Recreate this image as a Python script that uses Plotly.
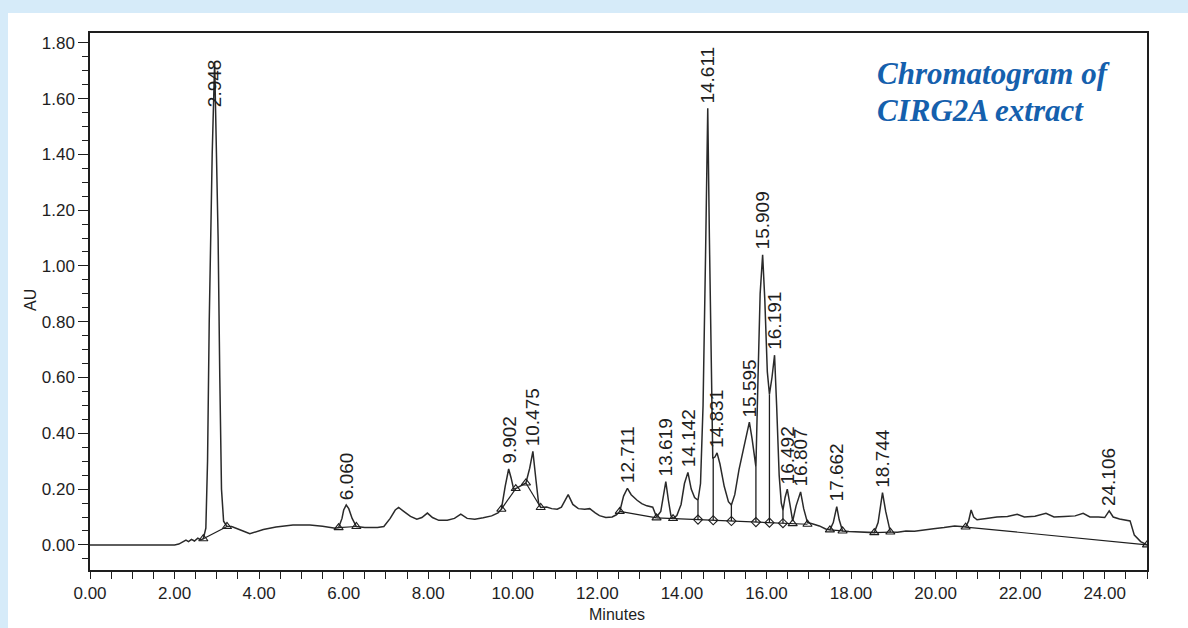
import numpy as np
import plotly.graph_objects as go

# Detector trace: retention time (min) and absorbance (AU)
time_min = [
    0.00, 1.00, 2.00, 2.10, 2.20, 2.27, 2.33, 2.40, 2.47, 2.55, 2.62, 2.68,
    2.74, 2.78, 2.82, 2.85, 2.89, 2.948, 2.99, 3.03, 3.07, 3.11, 3.16, 3.24,
    3.35, 3.50, 3.65, 3.78, 3.90, 4.10, 4.40, 4.80, 5.20, 5.50, 5.80, 5.88,
    5.96, 6.00, 6.060, 6.12, 6.20, 6.30, 6.50, 6.80, 6.95, 7.10, 7.22, 7.30,
    7.42, 7.58, 7.73, 7.85, 7.98, 8.10, 8.25, 8.45, 8.62, 8.77, 8.92, 9.10,
    9.30, 9.50, 9.65, 9.73, 9.82, 9.902, 9.96, 10.02, 10.07, 10.20, 10.31,
    10.40, 10.475, 10.55, 10.61, 10.66, 10.80, 10.92, 11.05, 11.15, 11.31,
    11.42, 11.55, 11.70, 11.82, 11.95, 12.05, 12.20, 12.35, 12.45, 12.53,
    12.62, 12.711, 12.80, 12.94, 13.05, 13.17, 13.31, 13.40, 13.50, 13.56,
    13.619, 13.68, 13.74, 13.79, 13.88, 13.98, 14.06, 14.142, 14.22, 14.30,
    14.38, 14.44, 14.50, 14.56, 14.611, 14.65, 14.69, 14.73, 14.78, 14.831,
    14.90, 15.00, 15.10, 15.17, 15.25, 15.35, 15.45, 15.52, 15.595, 15.66,
    15.75, 15.80, 15.85, 15.909, 15.96, 16.02, 16.07, 16.13, 16.191, 16.24,
    16.30, 16.35, 16.39, 16.44, 16.492, 16.55, 16.62, 16.70, 16.807, 16.88,
    16.97, 17.10, 17.25, 17.40, 17.50, 17.58, 17.662, 17.72, 17.80, 17.95,
    18.15, 18.35, 18.55, 18.64, 18.744, 18.82, 18.93, 19.10, 19.30, 19.50,
    19.70, 19.95, 20.20, 20.45, 20.60, 20.71, 20.78, 20.84, 20.90, 20.98,
    21.20, 21.45, 21.70, 21.93, 22.10, 22.35, 22.61, 22.80, 23.05, 23.30,
    23.49, 23.65, 23.85, 24.00, 24.106, 24.20, 24.35, 24.52, 24.60, 24.70,
    24.85, 25.00,
]
absorbance = [
    0.000, 0.000, 0.000, 0.003, 0.010, 0.017, 0.012, 0.020, 0.014, 0.024, 0.018, 0.022,
    0.060, 0.300, 0.800, 1.100, 1.400, 1.730, 1.450, 1.100, 0.600, 0.200, 0.085, 0.066,
    0.066, 0.058, 0.048, 0.040, 0.045, 0.055, 0.064, 0.071, 0.071, 0.067, 0.060, 0.062,
    0.095, 0.125, 0.143, 0.130, 0.095, 0.066, 0.062, 0.062, 0.066, 0.095, 0.125, 0.134,
    0.120, 0.102, 0.092, 0.098, 0.114, 0.098, 0.088, 0.088, 0.095, 0.110, 0.095, 0.092,
    0.097, 0.104, 0.115, 0.128, 0.210, 0.272, 0.240, 0.200, 0.202, 0.212, 0.222,
    0.275, 0.335, 0.230, 0.150, 0.134, 0.136, 0.130, 0.128, 0.135, 0.180,
    0.145, 0.130, 0.128, 0.130, 0.115, 0.105, 0.098, 0.100, 0.108, 0.120,
    0.175, 0.203, 0.180, 0.160, 0.148, 0.140, 0.135, 0.100, 0.120, 0.180,
    0.227, 0.160, 0.105, 0.095, 0.105, 0.145, 0.220, 0.260, 0.200, 0.170,
    0.160, 0.220, 0.500, 1.050, 1.565, 1.100, 0.600, 0.310, 0.315, 0.330,
    0.290, 0.210, 0.155, 0.143, 0.180, 0.270, 0.340, 0.390, 0.440, 0.380,
    0.280, 0.600, 0.900, 1.040, 0.880, 0.620, 0.540, 0.600, 0.680, 0.500,
    0.250, 0.150, 0.125, 0.170, 0.200, 0.150, 0.085, 0.140, 0.190, 0.130,
    0.080, 0.075, 0.068, 0.057, 0.054, 0.080, 0.137, 0.090, 0.050, 0.048,
    0.047, 0.046, 0.044, 0.080, 0.187, 0.120, 0.046, 0.045, 0.050, 0.049,
    0.054, 0.058, 0.062, 0.068, 0.066, 0.064, 0.085, 0.125, 0.100, 0.090,
    0.095, 0.100, 0.102, 0.110, 0.100, 0.103, 0.113, 0.100, 0.102, 0.104,
    0.113, 0.100, 0.100, 0.098, 0.122, 0.100, 0.093, 0.088, 0.086, 0.035,
    0.012, 0.000,
]

# Integrated peaks (retention times printed above each peak)
peak_rt = [2.948, 6.060, 9.902, 10.475, 12.711, 13.619, 14.142, 14.611, 14.831,
           15.595, 15.909, 16.191, 16.492, 16.807, 17.662, 18.744, 24.106]

# Integration baselines: start/end of each baseline segment
base_start_t = [2.68, 5.88, 9.73, 10.31, 12.53, 13.40, 17.50, 18.55, 20.71]
base_start_au = [0.022, 0.062, 0.128, 0.222, 0.120, 0.097, 0.054, 0.044, 0.064]
base_end_t = [3.24, 6.30, 10.07, 10.66, 13.40, 16.97, 17.80, 18.93, 25.00]
base_end_au = [0.066, 0.066, 0.202, 0.134, 0.097, 0.074, 0.050, 0.046, 0.000]

# Peak start/end marks (triangles) and drop-line marks (diamonds)
tri_t = [2.68, 3.24, 5.88, 6.30, 9.73, 10.07, 10.31, 10.66, 12.53, 13.40,
         13.79, 16.62, 16.97, 17.50, 17.80, 18.55, 18.93, 20.71, 25.00]
drop_t = [14.38, 14.74, 15.17, 15.75, 16.07, 16.39]

x_ticks = [0, 2, 4, 6, 8, 10, 12, 14, 16, 18, 20, 22, 24]
y_ticks = [0.0, 0.2, 0.4, 0.6, 0.8, 1.0, 1.2, 1.4, 1.6, 1.8]

INK = "#1e1e1e"
W, H = 1188, 628
ML, MR, MT, MB = 90, 41, 33, 58

# Baseline as a continuous set of points for lookups
bx, by = [], []
for t0, a0, t1, a1 in zip(base_start_t, base_start_au, base_end_t, base_end_au):
    bx += [t0, t1, None]
    by += [a0, a1, None]


def baseline_at(t):
    for t0, a0, t1, a1 in zip(base_start_t, base_start_au, base_end_t, base_end_au):
        if t0 <= t <= t1:
            return float(np.interp(t, [t0, t1], [a0, a1]))
    return float(np.interp(t, time_min, absorbance))


tri_au = [baseline_at(t) for t in tri_t]
drop_base = [baseline_at(t) for t in drop_t]
drop_top = [float(np.interp(t, time_min, absorbance)) for t in drop_t]

dx, dy = [], []
for t, b, top in zip(drop_t, drop_base, drop_top):
    dx += [t, t, None]
    dy += [b, top, None]

fig = go.Figure()

fig.add_trace(go.Scatter(x=bx, y=by, mode="lines",
                         line=dict(color=INK, width=1.2), hoverinfo="skip"))
fig.add_trace(go.Scatter(x=dx, y=dy, mode="lines",
                         line=dict(color=INK, width=1.3), hoverinfo="skip"))
fig.add_trace(go.Scatter(x=time_min, y=absorbance, mode="lines",
                         line=dict(color="#2a2a2a", width=1.5), name="AU"))
fig.add_trace(go.Scatter(x=tri_t, y=tri_au, mode="markers",
                         marker=dict(symbol="triangle-up-open", size=8,
                                     color=INK, line=dict(width=1.1))))
fig.add_trace(go.Scatter(x=drop_t, y=drop_base, mode="markers",
                         marker=dict(symbol="diamond-open", size=7,
                                     color=INK, line=dict(width=1.1))))

# Retention-time labels above the peaks
for rt in peak_rt:
    apex = float(np.interp(rt, time_min, absorbance))
    y_lab = 1.55 if rt == 2.948 else apex
    fig.add_annotation(x=rt, y=y_lab, text=f"{rt:.3f}", showarrow=False,
                       textangle=-90, xanchor="center", yanchor="bottom",
                       yshift=3, font=dict(family="Liberation Sans, Arial",
                                           size=19, color=INK))


def px_x(p):
    return (p - ML) / (W - ML - MR)


def px_y(p):
    return (H - MB - p) / (H - MT - MB)


# Axis titles
fig.add_annotation(xref="paper", yref="paper", x=px_x(30), y=px_y(300),
                   text="AU", showarrow=False, textangle=-90,
                   xanchor="center", yanchor="middle",
                   font=dict(family="Liberation Sans, Arial", size=16, color=INK))
fig.add_annotation(xref="paper", yref="paper", x=px_x(617), y=px_y(614),
                   text="Minutes", showarrow=False,
                   xanchor="center", yanchor="middle",
                   font=dict(family="Liberation Sans, Arial", size=16, color=INK))

# Caption inside the plot
title_font = dict(family="Liberation Serif, serif", size=31, color="#1560ad")
fig.add_annotation(xref="paper", yref="paper", x=px_x(875), y=px_y(74),
                   text="<b><i>Chromatogram of</i></b>", showarrow=False,
                   xanchor="left", yanchor="middle", font=title_font)
fig.add_annotation(xref="paper", yref="paper", x=px_x(875), y=px_y(110),
                   text="<b><i>CIRG2A extract</i></b>", showarrow=False,
                   xanchor="left", yanchor="middle", font=title_font)

# White panel on the light-blue page
fig.add_shape(type="rect", xref="paper", yref="paper",
              x0=px_x(8), x1=px_x(W + 20), y0=px_y(H + 20), y1=px_y(13),
              fillcolor="white", line=dict(width=0), layer="below")

axis_font = dict(family="Liberation Sans, Arial", size=17, color=INK)
fig.update_xaxes(range=[0, 25], tickmode="array", tickvals=x_ticks,
                 ticktext=[f"{v:.2f}" for v in x_ticks],
                 ticks="outside", ticklen=7, tickwidth=1.2, tickcolor=INK,
                 minor=dict(dtick=0.5, tick0=0, ticks="outside", ticklen=7,
                            tickwidth=1.2, tickcolor=INK, showgrid=False),
                 showline=True, linecolor=INK, linewidth=1.5, mirror=True,
                 showgrid=False, zeroline=False, tickfont=axis_font)
fig.update_yaxes(range=[-0.09, 1.835], tickmode="array", tickvals=y_ticks,
                 ticktext=[f"{v:.2f}" for v in y_ticks],
                 ticks="outside", ticklen=10, tickwidth=1.2, tickcolor=INK,
                 minor=dict(dtick=0.05, tick0=0, ticks="outside", ticklen=6,
                            tickwidth=1.2, tickcolor=INK, showgrid=False),
                 showline=True, linecolor=INK, linewidth=1.5, mirror=True,
                 showgrid=False, zeroline=False, tickfont=axis_font)

fig.update_layout(width=W, height=H, showlegend=False,
                  margin=dict(l=ML, r=MR, t=MT, b=MB),
                  paper_bgcolor="#d6ebf9", plot_bgcolor="white")

fig.write_html("out.html")
